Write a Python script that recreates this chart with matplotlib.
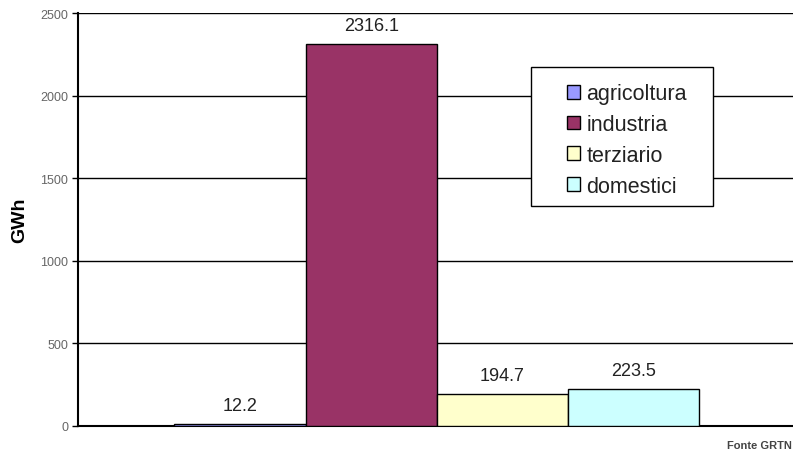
import numpy as np
import matplotlib.pyplot as plt
from matplotlib.patches import Rectangle

categories = ["agricoltura", "industria", "terziario", "domestici"]
values = [12.2, 2316.1, 194.7, 223.5]
colors = ["#9999FF", "#993366", "#FFFFCC", "#CCFFFF"]
yticks = [0, 500, 1000, 1500, 2000, 2500]

fig = plt.figure(figsize=(7.93, 4.56), dpi=100)
ax = fig.add_axes([0.0984, 0.0636, 0.905, 0.905])

x = np.arange(len(categories))
bars = ax.bar(x, values, width=1.0, color=colors, edgecolor="black",
              linewidth=1.0, label=categories, zorder=3)

for xi, v in zip(x, values):
    ax.text(xi, v + 110, f"{v:.1f}", ha="center", va="center",
            fontsize=13, color="#222222", family="Liberation Sans")

ax.set_xlim(-1.235, 4.235)
ax.set_ylim(0, 2500)
ax.set_yticks(yticks)
ax.set_yticklabels([str(t) for t in yticks], fontsize=9, color="#666666",
                   family="Liberation Sans")
ax.set_xticks([])
ax.yaxis.grid(True, color="black", linewidth=1.0, zorder=0)
ax.set_axisbelow(True)
ax.tick_params(axis="y", length=4, width=1, direction="out", pad=3)

ax.spines["top"].set_visible(False)
ax.spines["right"].set_visible(False)
ax.spines["left"].set_linewidth(1.5)
ax.spines["bottom"].set_linewidth(1.5)

ax.set_ylabel("GWh", fontsize=14, fontweight="bold", family="Liberation Sans")
ax.yaxis.set_label_coords(-0.069, 0.5)

# legend box drawn separately so the padding can be uneven like the original
box = Rectangle((0.631, 0.533), 0.254, 0.336, transform=ax.transAxes,
                facecolor="white", edgecolor="black", linewidth=1.0, zorder=4)
ax.add_patch(box)
leg = ax.legend(loc="upper left", bbox_to_anchor=(0.681, 0.83), frameon=False,
                prop={"family": "Liberation Sans", "size": 15.5},
                handlelength=0.6, handleheight=0.6, handletextpad=0.3,
                labelspacing=0.45, borderpad=0, borderaxespad=0)
leg.set_zorder(5)
for t in leg.get_texts():
    t.set_color("#222222")

fig.text(0.999, 0.022, "Fonte GRTN", ha="right", va="center", fontsize=8,
         fontweight="bold", color="#444444", family="Liberation Sans")

plt.savefig("out.png", dpi=100)
